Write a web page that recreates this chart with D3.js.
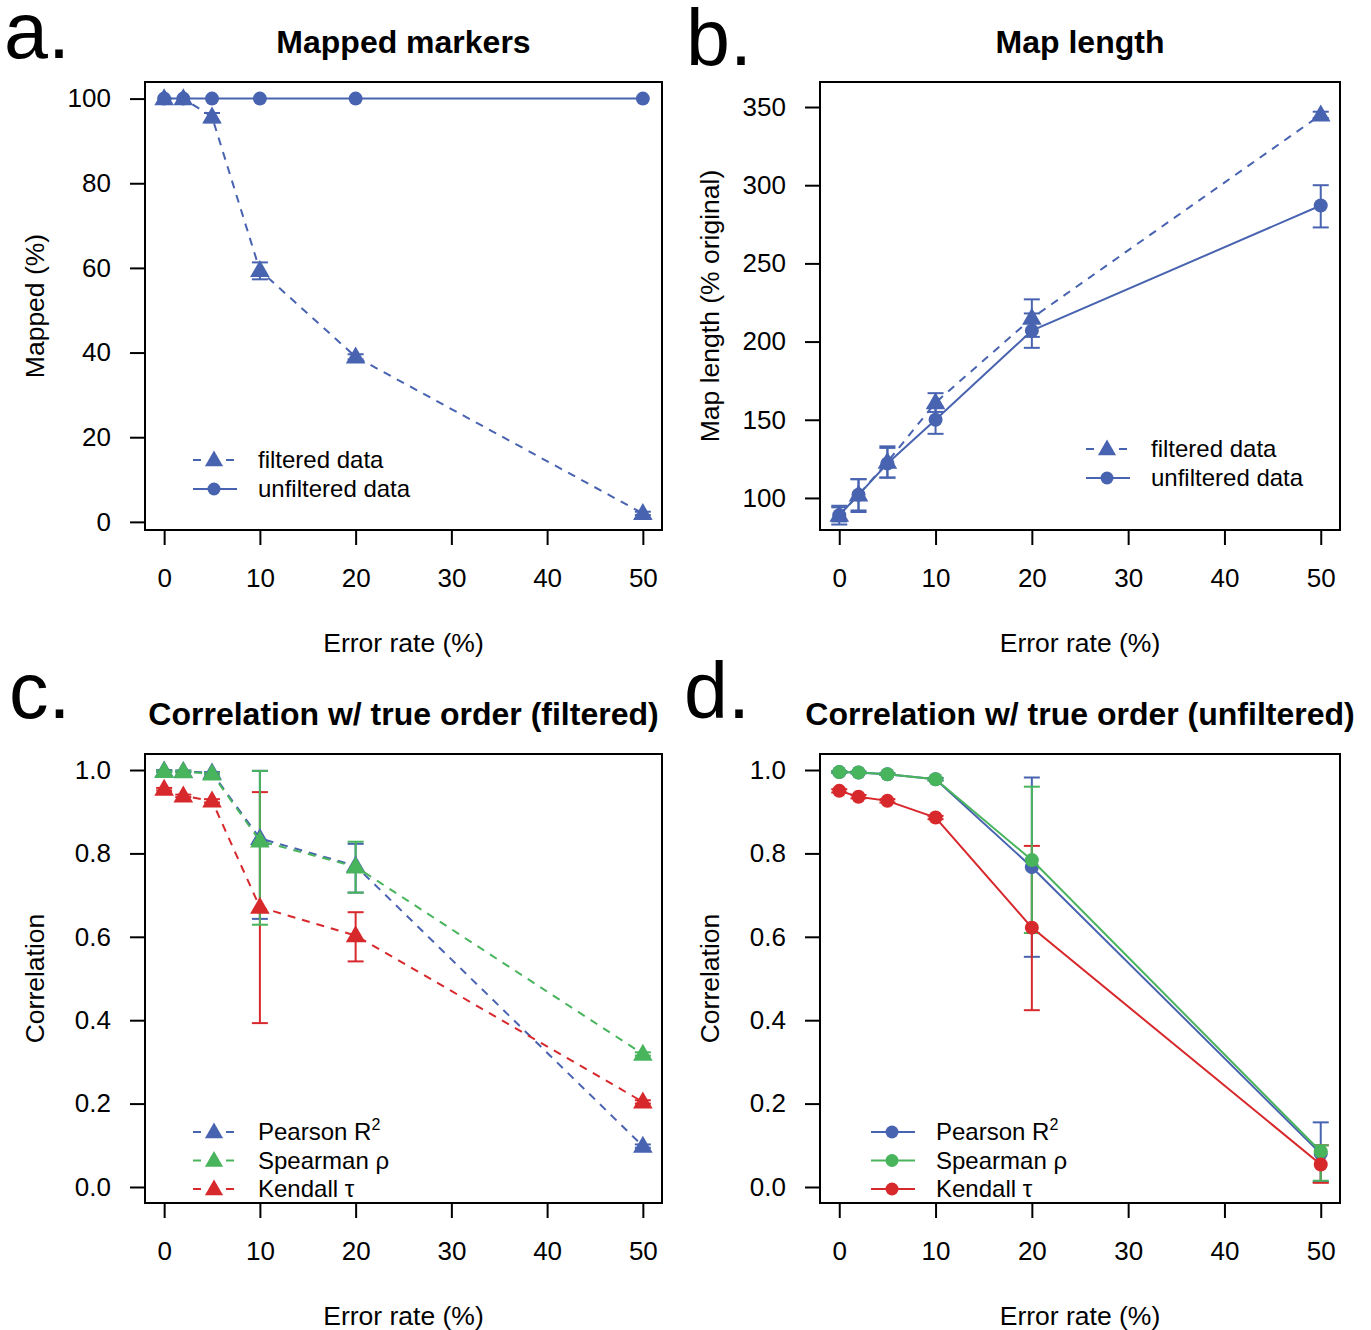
<!DOCTYPE html>
<html>
<head>
<meta charset="utf-8">
<script src="https://cdn.jsdelivr.net/npm/d3@7"></script>
<style>
  body { margin: 0; background: #fff; }
  text { font-family: "Liberation Sans", Arial, sans-serif; }
</style>
</head>
<body>
<script>
'use strict';

// error rates (x) shared by all panels
const errorRate = [0, 2, 5, 10, 20, 50];
const xTicks = [0, 10, 20, 30, 40, 50];

// a. mapped markers (%)
const mappedFiltered   = [100, 100, 95.7, 59.4, 39.0, 2.0];
const mappedFilteredLo = [100, 100, 94.4, 57.3, 38.4, 1.6];
const mappedFilteredHi = [100, 100, 96.6, 61.3, 39.6, 2.4];
const mappedUnfiltered = [100, 100, 100, 100, 100, 100];
const mappedTicks = [0, 20, 40, 60, 80, 100];

// b. map length (% original)
const lengthFiltered     = [89, 102, 123, 161, 215, 345];
const lengthFilteredLo   = [85, 92, 113, 155, 203, 343];
const lengthFilteredHi   = [94, 112, 133, 167, 227, 347];
const lengthUnfiltered   = [89, 102, 122, 150, 207, 287];
const lengthUnfilteredLo = [83, 91, 113, 141, 196, 273];
const lengthUnfilteredHi = [95, 112, 132, 158, 218, 300];
const lengthTicks = [100, 150, 200, 250, 300, 350];

// c. correlation, filtered data
const pearsonF    = [0.998, 0.997, 0.993, 0.836, 0.770, 0.098];
const pearsonFLo  = [0.996, 0.995, 0.991, 0.643, 0.706, 0.094];
const pearsonFHi  = [1.000, 0.999, 0.995, 0.998, 0.823, 0.102];
const spearmanF   = [0.997, 0.996, 0.991, 0.830, 0.768, 0.319];
const spearmanFLo = [0.995, 0.994, 0.989, 0.629, 0.706, 0.315];
const spearmanFHi = [0.999, 0.998, 0.993, 0.998, 0.828, 0.323];
const kendallF    = [0.954, 0.938, 0.926, 0.671, 0.603, 0.204];
const kendallFLo  = [0.951, 0.935, 0.922, 0.393, 0.541, 0.200];
const kendallFHi  = [0.957, 0.941, 0.930, 0.947, 0.659, 0.208];

// d. correlation, unfiltered data
const pearsonU    = [0.995, 0.994, 0.990, 0.978, 0.767, 0.080];
const pearsonULo  = [0.993, 0.992, 0.988, 0.975, 0.552, 0.012];
const pearsonUHi  = [0.997, 0.996, 0.992, 0.981, 0.982, 0.155];
const spearmanU   = [0.995, 0.994, 0.990, 0.978, 0.784, 0.085];
const spearmanULo = [0.993, 0.992, 0.988, 0.975, 0.609, 0.015];
const spearmanUHi = [0.997, 0.996, 0.992, 0.981, 0.960, 0.100];
const kendallU    = [0.950, 0.936, 0.926, 0.886, 0.622, 0.054];
const kendallULo  = [0.946, 0.932, 0.922, 0.882, 0.424, 0.010];
const kendallUHi  = [0.954, 0.940, 0.930, 0.890, 0.818, 0.100];
const corTicks = [0, 0.2, 0.4, 0.6, 0.8, 1.0];

const blue = "#4863b0", green = "#48b45c", red = "#d7282c";

const svg = d3.select("body").append("svg")
    .attr("width", 1371)
    .attr("height", 1330);

function rows(vals, lo, hi) {
    return errorRate.map((e, i) => ({x: e, y: vals[i], lo: lo ? lo[i] : null, hi: hi ? hi[i] : null}));
}

// a filled marker, triangle (R pch 17) or circle (pch 19)
function marker(g, shape, cx, cy, color, s) {
    if (shape === "tri") {
        g.append("path")
            .attr("d", d3.symbol().type(d3.symbolTriangle).size(s * s * 3.4)())
            .attr("transform", "translate(" + cx + "," + (cy + 1) + ")")
            .attr("fill", color);
    } else {
        g.append("circle").attr("cx", cx).attr("cy", cy).attr("r", s).attr("fill", color);
    }
}

function drawPanel(p) {
    const x = d3.scaleLinear().domain([-2, 52]).range([p.left, p.right]);
    const y = d3.scaleLinear().domain(p.yDomain).range([p.bottom, p.top]);
    const g = svg.append("g");
    const cx = (p.left + p.right) / 2;

    // axes
    let xAxis = d3.axisBottom(x).tickValues(xTicks).tickSize(15).tickPadding(24).tickFormat(d3.format("d"));
    let xg = g.append("g").attr("transform", "translate(0," + p.bottom + ")").call(xAxis);
    let yAxis = d3.axisLeft(y).tickValues(p.yTicks).tickSize(15).tickPadding(19).tickFormat(p.fmt);
    let yg = g.append("g").attr("transform", "translate(" + p.left + ",0)").call(yAxis);
    [xg, yg].forEach(a => {
        a.select(".domain").remove();
        a.selectAll(".tick line").attr("stroke", "#000").attr("stroke-width", 2);
        a.selectAll(".tick text").attr("fill", "#000").style("font-size", "26px")
            .style("font-family", "'Liberation Sans', Arial, sans-serif");
    });

    g.append("rect")
        .attr("x", p.left).attr("y", p.top)
        .attr("width", p.right - p.left).attr("height", p.bottom - p.top)
        .attr("fill", "none").attr("stroke", "#000").attr("stroke-width", 2);

    // titles and labels
    g.append("text").attr("x", cx).attr("y", p.top - 29)
        .attr("text-anchor", "middle").attr("font-weight", "bold").attr("font-size", "32px")
        .text(p.title);
    g.append("text").attr("x", p.letterX).attr("y", p.letterY)
        .attr("font-size", "79px").text(p.letter);
    g.append("text").attr("x", cx).attr("y", p.bottom + 122)
        .attr("text-anchor", "middle").attr("font-size", "26.5px").text("Error rate (%)");
    g.append("text")
        .attr("transform", "translate(" + (p.left - 101) + "," + ((p.top + p.bottom) / 2) + ") rotate(-90)")
        .attr("text-anchor", "middle").attr("font-size", "26.5px").text(p.yLabel);

    const line = d3.line().x(d => x(d.x)).y(d => y(d.y));

    // error bars first, then lines and points
    p.barOrder.forEach(s => {
        s.data.filter(d => d.lo !== null && d.hi - d.lo > 0.0001).forEach(d => {
            let eb = g.append("g").attr("stroke", s.color).attr("stroke-width", 2);
            eb.append("line").attr("x1", x(d.x)).attr("x2", x(d.x)).attr("y1", y(d.lo)).attr("y2", y(d.hi));
            [d.lo, d.hi].forEach(v => {
                eb.append("line").attr("x1", x(d.x) - 8).attr("x2", x(d.x) + 8)
                    .attr("y1", y(v)).attr("y2", y(v));
            });
        });
    });
    p.series.forEach(s => {
        g.append("path").datum(s.data).attr("d", line)
            .attr("fill", "none").attr("stroke", s.color).attr("stroke-width", 2)
            .attr("stroke-dasharray", s.dashed ? "8,7" : null);
        s.data.forEach(d => marker(g, s.shape, x(d.x), y(d.y), s.color, 7));
    });

    // legend
    p.series.forEach((s, i) => {
        let ly = p.legY + i * p.legStep;
        let lx = p.legX;
        if (s.dashed) {
            g.append("line").attr("x1", lx).attr("x2", lx + 8).attr("y1", ly).attr("y2", ly)
                .attr("stroke", s.color).attr("stroke-width", 2);
            g.append("line").attr("x1", lx + 33).attr("x2", lx + 41).attr("y1", ly).attr("y2", ly)
                .attr("stroke", s.color).attr("stroke-width", 2);
        } else {
            g.append("line").attr("x1", lx).attr("x2", lx + 44).attr("y1", ly).attr("y2", ly)
                .attr("stroke", s.color).attr("stroke-width", 2);
        }
        marker(g, s.shape, lx + 21, ly, s.color, 6.5);
        let t = g.append("text").attr("x", lx + 65).attr("y", ly + 8).attr("font-size", "24px");
        t.append("tspan").text(s.name);
        if (s.sup) {
            t.append("tspan").attr("dy", -10).attr("font-size", "16px").text(s.sup);
        }
    });
}

const corFmt = d3.format(".1f");

drawPanel({
    left: 145, right: 662, top: 82, bottom: 530,
    yDomain: [-1.92, 103.92], yTicks: mappedTicks, fmt: d3.format("d"),
    title: "Mapped markers", letter: "a.", letterX: 4, letterY: 58, yLabel: "Mapped (%)",
    legX: 193, legY: 460, legStep: 29,
    barOrder: [{data: rows(mappedFiltered, mappedFilteredLo, mappedFilteredHi), color: blue}],
    series: [
        {name: "filtered data", data: rows(mappedFiltered), color: blue, dashed: true, shape: "tri"},
        {name: "unfiltered data", data: rows(mappedUnfiltered), color: blue, dashed: false, shape: "dot"}
    ]
});

drawPanel({
    left: 820, right: 1340, top: 82, bottom: 530,
    yDomain: [79.5, 366], yTicks: lengthTicks, fmt: d3.format("d"),
    title: "Map length", letter: "b.", letterX: 686, letterY: 65, yLabel: "Map length (% original)",
    legX: 1086, legY: 449, legStep: 29,
    barOrder: [
        {data: rows(lengthFiltered, lengthFilteredLo, lengthFilteredHi), color: blue},
        {data: rows(lengthUnfiltered, lengthUnfilteredLo, lengthUnfilteredHi), color: blue}
    ],
    series: [
        {name: "filtered data", data: rows(lengthFiltered), color: blue, dashed: true, shape: "tri"},
        {name: "unfiltered data", data: rows(lengthUnfiltered), color: blue, dashed: false, shape: "dot"}
    ]
});

drawPanel({
    left: 145, right: 662, top: 754, bottom: 1203,
    yDomain: [-0.0384, 1.0384], yTicks: corTicks, fmt: corFmt,
    title: "Correlation w/ true order (filtered)", letter: "c.", letterX: 9, letterY: 718, yLabel: "Correlation",
    legX: 193, legY: 1132, legStep: 28.5,
    barOrder: [
        {data: rows(pearsonF, pearsonFLo, pearsonFHi), color: blue},
        {data: rows(kendallF, kendallFLo, kendallFHi), color: red},
        {data: rows(spearmanF, spearmanFLo, spearmanFHi), color: green}
    ],
    series: [
        {name: "Pearson R", sup: "2", data: rows(pearsonF), color: blue, dashed: true, shape: "tri"},
        {name: "Spearman \u03c1", data: rows(spearmanF), color: green, dashed: true, shape: "tri"},
        {name: "Kendall \u03c4", data: rows(kendallF), color: red, dashed: true, shape: "tri"}
    ]
});

drawPanel({
    left: 820, right: 1340, top: 754, bottom: 1203,
    yDomain: [-0.0384, 1.0384], yTicks: corTicks, fmt: corFmt,
    title: "Correlation w/ true order (unfiltered)", letter: "d.", letterX: 684, letterY: 718, yLabel: "Correlation",
    legX: 871, legY: 1132, legStep: 28.5,
    barOrder: [
        {data: rows(pearsonU, pearsonULo, pearsonUHi), color: blue},
        {data: rows(kendallU, kendallULo, kendallUHi), color: red},
        {data: rows(spearmanU, spearmanULo, spearmanUHi), color: green}
    ],
    series: [
        {name: "Pearson R", sup: "2", data: rows(pearsonU), color: blue, dashed: false, shape: "dot"},
        {name: "Spearman \u03c1", data: rows(spearmanU), color: green, dashed: false, shape: "dot"},
        {name: "Kendall \u03c4", data: rows(kendallU), color: red, dashed: false, shape: "dot"}
    ]
});
</script>
</body>
</html>
